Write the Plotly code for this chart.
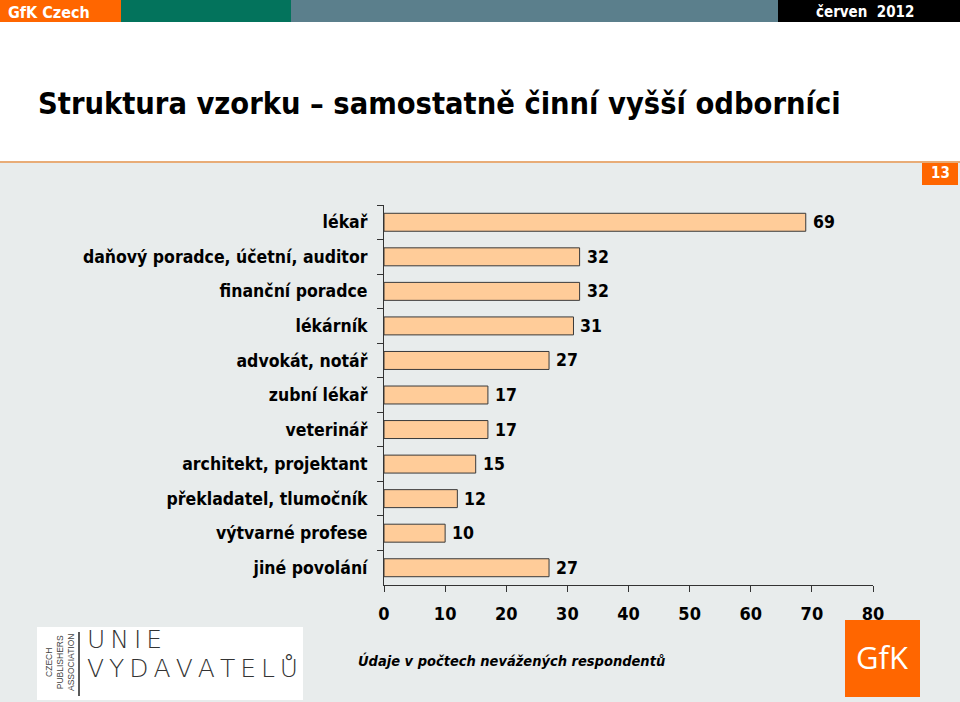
import plotly.graph_objects as go

categories = ["lékař", "daňový poradce, účetní, auditor", "finanční poradce", "lékárník",
              "advokát, notář", "zubní lékař", "veterinář", "architekt, projektant",
              "překladatel, tlumočník", "výtvarné profese", "jiné povolání"]
values = [69, 32, 32, 31, 27, 17, 17, 15, 12, 10, 27]
x_ticks = [0, 10, 20, 30, 40, 50, 60, 70, 80]

W, H = 960, 702
L, R, T, B = 384, 873, 205, 585
COND = "DejaVu Sans Condensed"

def px(x):
    return (x - L) / (R - L)

def py(y):
    return (B - y) / (B - T)

fig = go.Figure()
fig.add_trace(go.Bar(
    x=values, y=categories, orientation="h",
    marker=dict(color="#FFCC99", line=dict(color="#3a3a3a", width=1)),
    width=0.52, hoverinfo="skip",
))

annotations = []
for c, v in zip(categories, values):
    annotations.append(dict(x=v, y=c, xref="x", yref="y", text=f"<b>{v}</b>", showarrow=False,
                            xanchor="left", xshift=5, font=dict(family=COND, size=17.5, color="#000")))

shapes = []
def rect(x0, y0, x1, y1, color, layer="below", line=None):
    shapes.append(dict(type="rect", xref="paper", yref="paper", x0=px(x0), x1=px(x1), y0=py(y1), y1=py(y0),
                       fillcolor=color, line=line or dict(width=0), layer=layer))

# header bar
rect(0, 0, 121, 22, "#FF6600")
rect(121, 0, 291, 22, "#03735C")
rect(291, 0, 778, 22, "#5B7F8C")
rect(778, 0, 960, 22, "#000000")
# gray panel
rect(0, 163, 960, 702, "#E8ECEC")
shapes.append(dict(type="line", xref="paper", yref="paper", x0=px(0), x1=px(960), y0=py(162), y1=py(162),
                   line=dict(color="#E0904A", width=1.5), layer="below"))
# page number box
rect(922, 163, 958, 185, "#FF6600")
# logos
rect(37, 627, 303, 700, "#FFFFFF", layer="above")
shapes.append(dict(type="line", xref="paper", yref="paper", x0=px(79), x1=px(79), y0=py(632), y1=py(696),
                   line=dict(color="#222", width=1.5), layer="above"))
rect(845, 620, 920, 697, "#FF6600", layer="above")

def ann(x, y, text, size, color="#000", family=COND, xanchor="left", angle=0, weight=None):
    f = dict(family=family, size=size, color=color)
    if weight:
        f["weight"] = weight
    annotations.append(dict(x=px(x), y=py(y), xref="paper", yref="paper", text=text, showarrow=False,
                            xanchor=xanchor, yanchor="middle", textangle=angle, font=f))

thin = "\u2009"
ann(6, 12, "<b>GfK Czech</b>", 16, "#FFFFFF")
ann(865, 12, "<b>červen  2012</b>", 15, "#FFFFFF", xanchor="center")
ann(36, 104, "<b>Struktura vzorku – samostatně činní vyšší odborníci</b>", 30.5, "#000")
ann(940, 173, "<b>13</b>", 15, "#FFFFFF", xanchor="center")
ann(511, 660, "<b><i>Údaje v počtech nevážených respondentů</i></b>", 14.5, "#000", xanchor="center")
ann(60, 663, "CZECH<br>PUBLISHERS<br>ASSOCIATION", 8.5, "#444", "Liberation Sans", xanchor="center", angle=-90)
ann(85, 639, thin.join("UNIE"), 25, "#333", "DejaVu Sans", weight=200)
ann(85, 668, thin.join("VYDAVATELŮ"), 25, "#333", "DejaVu Sans", weight=200)
ann(882, 657, "GfK", 31, "#FFFFFF", "Open Sans", xanchor="center")

fig.update_layout(
    width=W, height=H,
    margin=dict(l=L, r=W - R, t=T, b=H - B, pad=0),
    paper_bgcolor="#FFFFFF", plot_bgcolor="rgba(0,0,0,0)",
    showlegend=False, bargap=0.48,
    shapes=shapes, annotations=annotations,
    xaxis=dict(range=[0, 80], tickvals=x_ticks, ticktext=[f"<b>{t}</b>" for t in x_ticks],
               showgrid=False, zeroline=False, showline=True, linecolor="#333", linewidth=1,
               ticks="outside", ticklen=6, tickcolor="#333", ticklabelstandoff=6,
               tickfont=dict(family=COND, size=18, color="#000"), fixedrange=True),
    yaxis=dict(autorange="reversed", showgrid=False, showline=True, linecolor="#333", linewidth=1,
               ticks="outside", ticklen=6, tickcolor="#333", tickson="boundaries",
               tickfont=dict(family=COND, size=17.5, color="#000", weight="bold"), ticklabelstandoff=12,
               fixedrange=True),
)

fig.write_html("out.html", config={"displayModeBar": False},
               post_script="document.body.style.margin='0px';document.body.style.padding='0px';")
